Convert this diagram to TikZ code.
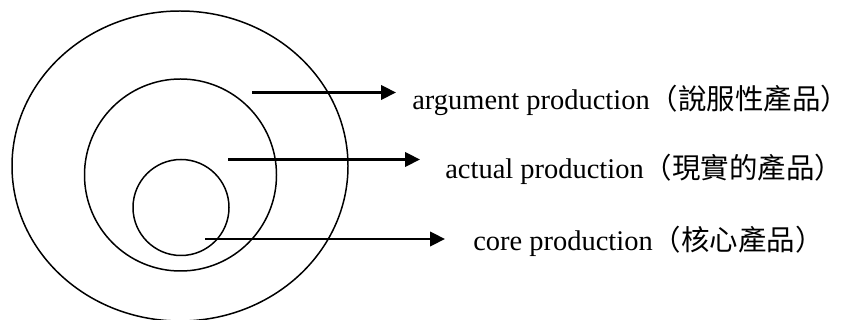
\documentclass[tikz,border=0pt]{standalone}
\usepackage{fontspec}
\setmainfont{Liberation Serif}
\newfontfamily\cjkfont{Noto Sans CJK TC}
\usetikzlibrary{arrows.meta}
\tikzset{
  ring/.style={line width=0.85pt},
  pointer/.style={line width=1.2pt, -{Triangle[length=0.3cm,width=0.29cm]}},
  levellabel/.style={anchor=base west, inner sep=0pt, font=\fontsize{16.2}{19}\selectfont},
}
\begin{document}
\begin{tikzpicture}[x=0.02cm, y=-0.02cm]
\useasboundingbox (0,0) rectangle (848,320);
% product levels
\draw[ring] (180,166) ellipse [x radius=168, y radius=155];
\draw[ring] (180.5,175) circle [radius=96];
\draw[ring] (181,207.5) circle [radius=48];
% labels
\node[levellabel] (argument) at (412,110) {argument production{\cjkfont（說服性產品）}};
\node[levellabel] (actual) at (445,179) {actual production{\cjkfont（現實的產品）}};
\node[levellabel] (core) at (473,251) {core production{\cjkfont（核心產品）}};
% pointers
\coordinate (argstart) at (252,92.5);
\coordinate (actstart) at (228,159.5);
\coordinate (corestart) at (205,239);
\draw[pointer, shorten >=0.32cm] (argstart) -- (argstart -| argument.west);
\draw[pointer, shorten >=0.50cm] (actstart) -- (actstart -| actual.west);
\draw[pointer, shorten >=0.56cm] (corestart) -- (corestart -| core.west);
\end{tikzpicture}
\end{document}
